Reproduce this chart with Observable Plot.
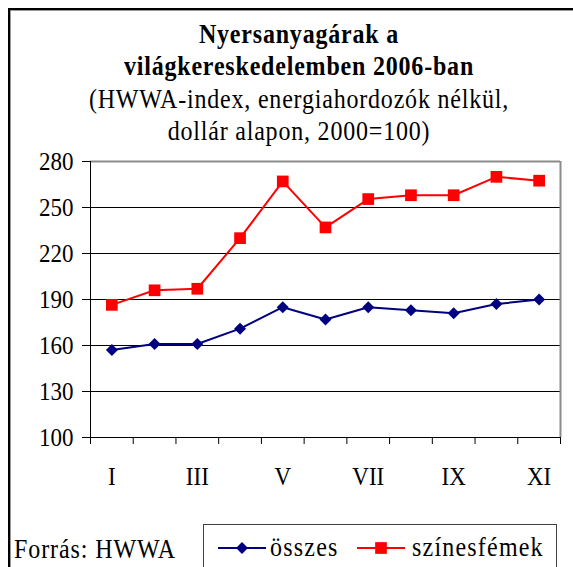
<!DOCTYPE html>
<html><head><meta charset="utf-8">
<script src="https://cdn.jsdelivr.net/npm/d3@7"></script>
<script src="https://cdn.jsdelivr.net/npm/@observablehq/plot@0.6"></script>
<style>
body{margin:0;background:#fff;}
#root{position:relative;width:573px;height:567px;overflow:hidden;background:#fff;font-family:"Liberation Serif","Times New Roman",serif;color:#000;}
#frame{position:absolute;left:8px;top:8px;width:640px;height:640px;border-left:2px solid #000;border-top:2px solid #000;box-shadow:1px 1px 0 #999 inset;}
.tl{position:absolute;left:0;width:598px;text-align:center;font-size:24px;line-height:32px;letter-spacing:0.8px;white-space:nowrap;transform:scaleY(1.12);transform-origin:50% 70%;}
.tl.b{font-weight:bold;}
#chart{position:absolute;left:0;top:140px;}
#source{position:absolute;left:14px;top:534px;font-size:24px;line-height:32px;letter-spacing:0.9px;white-space:nowrap;transform:scaleY(1.12);transform-origin:50% 70%;}
#legend{position:absolute;left:203px;top:524px;width:352px;height:80px;border:1px solid #404040;}
.lg{position:absolute;top:536px;}
.lt{position:absolute;top:532px;font-size:24px;line-height:32px;letter-spacing:1.2px;white-space:nowrap;transform:scaleY(1.12);transform-origin:50% 70%;}
</style></head>
<body>
<div id="root">
  <div id="frame"></div>
  <div class="tl b" style="top:19px">Nyersanyagárak a</div>
  <div class="tl b" style="top:51px">világkereskedelemben 2006-ban</div>
  <div class="tl" style="top:84px">(HWWA-index, energiahordozók nélkül,</div>
  <div class="tl" style="top:116px">dollár alapon, 2000=100)</div>
  <div id="chart"></div>
  <div id="source">Forrás: HWWA</div>
  <div id="legend"></div>
  <div id="legendItems"></div>
</div>
<script>
const months = ["I","II","III","IV","V","VI","VII","VIII","IX","X","XI"];
const osszes = [157, 161, 161, 171, 185, 177, 185, 183, 181, 187, 190];
const szinesfemek = [186.5, 196, 197, 230, 267, 237, 255.5, 258, 258, 270, 267.5];
const yTicks = [100, 130, 160, 190, 220, 250, 280];
const xLabels = ["I","III","V","VII","IX","XI"];
const seriesNames = ["összes", "színesfémek"];
const seriesColors = ["#000080", "#ff0000"];

const rowsA = months.map((m, i) => ({idx: i + 1, month: m, value: osszes[i]}));
const rowsB = months.map((m, i) => ({idx: i + 1, month: m, value: szinesfemek[i]}));
const boundaries = d3.range(months.length + 1).map(i => i + 0.5);
const yMin = d3.min(yTicks), yMax = d3.max(yTicks);

const chart = Plot.plot({
  width: 573, height: 360,
  marginLeft: 90, marginRight: 13, marginTop: 21, marginBottom: 63,
  style: {fontFamily: "'Liberation Serif', 'Times New Roman', serif", fontSize: "23px", color: "#000", background: "transparent", overflow: "visible"},
  x: {type: "linear", domain: [0.5, months.length + 0.5]},
  y: {domain: [yMin, yMax]},
  marks: [
    Plot.ruleY(yTicks.filter(t => t > yMin && t < yMax), {stroke: "#000", strokeWidth: 1}),
    Plot.ruleY([yMax], {stroke: "#8c8c8c", strokeWidth: 2}),
    Plot.ruleX([months.length + 0.5], {stroke: "#8c8c8c", strokeWidth: 2}),
    Plot.axisY({ticks: yTicks, tickSize: 8, tickPadding: 9, tickFormat: d => String(d), label: null, stroke: "#000"}),
    Plot.axisX({ticks: boundaries, tickSize: 7, tickFormat: () => "", label: null, stroke: "#000"}),
    Plot.axisX({ticks: xLabels.map(l => months.indexOf(l) + 1), tickSize: 0, tickPadding: 29, tickFormat: i => months[i - 1], label: null}),
    Plot.ruleY([yMin], {stroke: "#000", strokeWidth: 1}),
    Plot.ruleX([0.5], {stroke: "#000", strokeWidth: 1}),
    Plot.line(rowsB, {x: "idx", y: "value", stroke: seriesColors[1], strokeWidth: 2}),
    Plot.dot(rowsB, {x: "idx", y: "value", symbol: "square", r: 6.6, fill: seriesColors[1], stroke: "none"}),
    Plot.line(rowsA, {x: "idx", y: "value", stroke: seriesColors[0], strokeWidth: 2}),
    Plot.dot(rowsA, {x: "idx", y: "value", symbol: "diamond2", r: 5.4, fill: seriesColors[0], stroke: "none"})
  ]
});
// stretch tick labels vertically a little, like the reference rendering
chart.querySelectorAll("text").forEach(t => {
  const tr = t.getAttribute("transform");
  if (tr && tr.startsWith("translate")) t.setAttribute("transform", tr + " scale(1,1.12)");
});
document.getElementById("chart").appendChild(chart);

// legend
const items = document.getElementById("legendItems");
const lx = [216, 355];
const tx = [270, 412];
seriesNames.forEach((name, k) => {
  const svg = d3.create("svg").attr("class", "lg").attr("width", 52).attr("height", 24)
    .style("left", lx[k] + "px");
  svg.append("line").attr("x1", 2).attr("x2", 50).attr("y1", 12).attr("y2", 12)
    .attr("stroke", seriesColors[k]).attr("stroke-width", 2);
  const sym = k === 0 ? d3.symbolDiamond2 : d3.symbolSquare;
  const size = k === 0 ? Math.PI * 5.4 * 5.4 : Math.PI * 6.6 * 6.6;
  svg.append("path").attr("d", d3.symbol(sym, size)()).attr("transform", "translate(26,12)")
    .attr("fill", seriesColors[k]);
  items.appendChild(svg.node());
  const t = document.createElement("div");
  t.className = "lt"; t.style.left = tx[k] + "px"; t.textContent = name;
  items.appendChild(t);
});
</script>
</body></html>
